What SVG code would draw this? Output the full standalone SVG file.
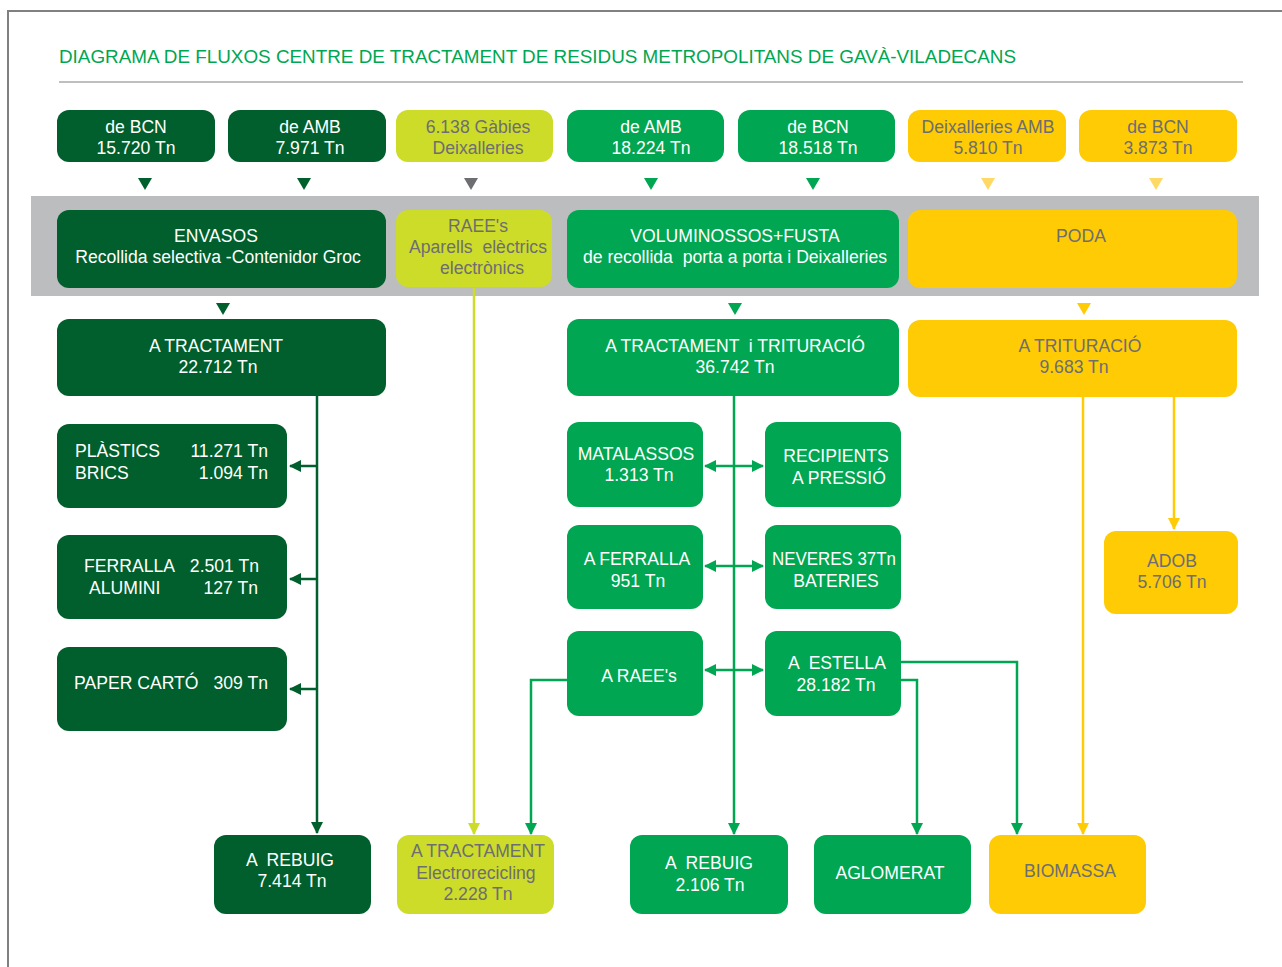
<svg xmlns="http://www.w3.org/2000/svg" width="1282" height="967" viewBox="0 0 1282 967">
<defs>
<style>
text{font-family:"Liberation Sans",Arial,sans-serif;font-size:17.6px;text-anchor:middle;white-space:pre}
.w{fill:#ffffff}
.g{fill:#6d6e71}
.dk{fill:#005f2c}
.gr{fill:#00a651}
.lm{fill:#cddc29}
.yl{fill:#ffcb05}
.c{fill:none;stroke-width:2.5}
</style>
<marker id="aDk" viewBox="0 0 12 12" refX="11" refY="6" markerWidth="12" markerHeight="12" markerUnits="userSpaceOnUse" orient="auto-start-reverse"><path d="M0,0L12,6L0,12z" fill="#005f2c"/></marker>
<marker id="aGr" viewBox="0 0 12 12" refX="11" refY="6" markerWidth="12" markerHeight="12" markerUnits="userSpaceOnUse" orient="auto-start-reverse"><path d="M0,0L12,6L0,12z" fill="#00a651"/></marker>
<marker id="aLm" viewBox="0 0 12 12" refX="11" refY="6" markerWidth="12" markerHeight="12" markerUnits="userSpaceOnUse" orient="auto-start-reverse"><path d="M0,0L12,6L0,12z" fill="#cddc29"/></marker>
<marker id="aYl" viewBox="0 0 12 12" refX="11" refY="6" markerWidth="12" markerHeight="12" markerUnits="userSpaceOnUse" orient="auto-start-reverse"><path d="M0,0L12,6L0,12z" fill="#ffcb05"/></marker>
</defs>
<rect width="1282" height="967" fill="#ffffff"/>
<path d="M8,967V11H1282" fill="none" stroke="#808080" stroke-width="2"/>
<text x="59" y="63" textLength="957" lengthAdjust="spacingAndGlyphs" style="text-anchor:start;fill:#00a651;font-size:18.5px">DIAGRAMA DE FLUXOS CENTRE DE TRACTAMENT DE RESIDUS METROPOLITANS DE GAVÀ-VILADECANS</text>
<line x1="59" y1="82" x2="1243" y2="82" stroke="#808080" stroke-width="1.2"/>
<rect x="31" y="196" width="1228" height="100" fill="#bcbdbf"/>

<g id="triangles">
<path d="M138,178h14l-7,12z" fill="#005f2c"/>
<path d="M297,178h14l-7,12z" fill="#005f2c"/>
<path d="M464,178h14l-7,12z" fill="#6d6e71"/>
<path d="M644,178h14l-7,12z" fill="#00a651"/>
<path d="M806,178h14l-7,12z" fill="#00a651"/>
<path d="M981,178h14l-7,12z" fill="#ffd966"/>
<path d="M1149,178h14l-7,12z" fill="#ffd966"/>
<path d="M216,303h14l-7,12z" fill="#005f2c"/>
<path d="M728,303h14l-7,12z" fill="#00a651"/>
<path d="M1077,303h14l-7,12z" fill="#ffcb05"/>
</g>

<g id="connectors">
<path class="c" d="M317,396V833" stroke="#005f2c" stroke-width="3" marker-end="url(#aDk)"/>
<path class="c" d="M317,466H290" stroke="#005f2c" stroke-width="3" marker-end="url(#aDk)"/>
<path class="c" d="M317,579H290" stroke="#005f2c" stroke-width="3" marker-end="url(#aDk)"/>
<path class="c" d="M317,689H290" stroke="#005f2c" stroke-width="3" marker-end="url(#aDk)"/>
<path class="c" d="M474,288V834" stroke="#cddc29" marker-end="url(#aLm)"/>
<path class="c" d="M567,680H531V834" stroke="#00a651" marker-end="url(#aGr)"/>
<path class="c" d="M734,396V834" stroke="#00a651" marker-end="url(#aGr)"/>
<path class="c" d="M705,466H763" stroke="#00a651" stroke-width="3" marker-start="url(#aGr)" marker-end="url(#aGr)"/>
<path class="c" d="M705,566H763" stroke="#00a651" stroke-width="3" marker-start="url(#aGr)" marker-end="url(#aGr)"/>
<path class="c" d="M705,670H763" stroke="#00a651" stroke-width="3" marker-start="url(#aGr)" marker-end="url(#aGr)"/>
<path class="c" d="M901,662H1017V834" stroke="#00a651" marker-end="url(#aGr)"/>
<path class="c" d="M901,680H917V834" stroke="#00a651" marker-end="url(#aGr)"/>
<path class="c" d="M1083,397V834" stroke="#ffcb05" marker-end="url(#aYl)"/>
<path class="c" d="M1174,397V529" stroke="#ffcb05" marker-end="url(#aYl)"/>
</g>

<g id="n-bcn1"><rect class="dk" x="57" y="110" width="158" height="52" rx="12"/><text class="w" x="136" y="133">de BCN</text><text class="w" x="136" y="154">15.720 Tn</text></g>
<g id="n-amb1"><rect class="dk" x="228" y="110" width="158" height="52" rx="12"/><text class="w" x="310" y="133">de AMB</text><text class="w" x="310" y="154">7.971 Tn</text></g>
<g id="n-gabies"><rect class="lm" x="396" y="110" width="157" height="52" rx="12"/><text class="g" x="478" y="133">6.138 Gàbies</text><text class="g" x="478" y="154">Deixalleries</text></g>
<g id="n-amb2"><rect class="gr" x="567" y="110" width="157" height="52" rx="12"/><text class="w" x="651" y="133">de AMB</text><text class="w" x="651" y="154">18.224 Tn</text></g>
<g id="n-bcn2"><rect class="gr" x="738" y="110" width="157" height="52" rx="12"/><text class="w" x="818" y="133">de BCN</text><text class="w" x="818" y="154">18.518 Tn</text></g>
<g id="n-deixamb"><rect class="yl" x="908" y="110" width="158" height="52" rx="12"/><text class="g" x="988" y="133">Deixalleries AMB</text><text class="g" x="988" y="154">5.810 Tn</text></g>
<g id="n-bcn3"><rect class="yl" x="1079" y="110" width="158" height="52" rx="12"/><text class="g" x="1158" y="133">de BCN</text><text class="g" x="1158" y="154">3.873 Tn</text></g>

<g id="n-envasos"><rect class="dk" x="57" y="210" width="329" height="78" rx="12"/><text class="w" x="216" y="242">ENVASOS</text><text class="w" x="218" y="263">Recollida selectiva -Contenidor Groc</text></g>
<g id="n-raee"><rect class="lm" x="396" y="210" width="156" height="77" rx="12"/><text class="g" x="478" y="232">RAEE's</text><text class="g" x="478" y="253">Aparells  elèctrics</text><text class="g" x="482" y="274">electrònics</text></g>
<g id="n-volum"><rect class="gr" x="567" y="210" width="332" height="78" rx="12"/><text class="w" x="735" y="242">VOLUMINOSSOS+FUSTA</text><text class="w" x="735" y="263">de recollida  porta a porta i Deixalleries</text></g>
<g id="n-poda"><rect class="yl" x="908" y="210" width="329" height="78" rx="12"/><text class="g" x="1081" y="242">PODA</text></g>

<g id="n-tract1"><rect class="dk" x="57" y="319" width="329" height="77" rx="12"/><text class="w" x="216" y="352">A TRACTAMENT</text><text class="w" x="218" y="373">22.712 Tn</text></g>
<g id="n-tract2"><rect class="gr" x="567" y="319" width="332" height="77" rx="12"/><text class="w" x="735" y="352">A TRACTAMENT  i TRITURACIÓ</text><text class="w" x="735" y="373">36.742 Tn</text></g>
<g id="n-trit"><rect class="yl" x="908" y="320" width="329" height="77" rx="12"/><text class="g" x="1080" y="352">A TRITURACIÓ</text><text class="g" x="1074" y="373">9.683 Tn</text></g>

<g id="n-plastics"><rect class="dk" x="57" y="424" width="230" height="84" rx="12"/><text class="w" x="75" y="457" style="text-anchor:start">PLÀSTICS</text><text class="w" x="268" y="457" style="text-anchor:end">11.271 Tn</text><text class="w" x="75" y="479" style="text-anchor:start">BRICS</text><text class="w" x="268" y="479" style="text-anchor:end">1.094 Tn</text></g>
<g id="n-ferralla"><rect class="dk" x="57" y="535" width="230" height="84" rx="12"/><text class="w" x="84" y="572" style="text-anchor:start">FERRALLA</text><text class="w" x="259" y="572" style="text-anchor:end">2.501 Tn</text><text class="w" x="89" y="594" style="text-anchor:start">ALUMINI</text><text class="w" x="258" y="594" style="text-anchor:end">127 Tn</text></g>
<g id="n-paper"><rect class="dk" x="57" y="647" width="230" height="84" rx="12"/><text class="w" x="74" y="689" style="text-anchor:start">PAPER CARTÓ</text><text class="w" x="268" y="689" style="text-anchor:end">309 Tn</text></g>

<g id="n-matal"><rect class="gr" x="567" y="422" width="136" height="85" rx="12"/><text class="w" x="636" y="460">MATALASSOS</text><text class="w" x="639" y="481">1.313 Tn</text></g>
<g id="n-recip"><rect class="gr" x="765" y="422" width="136" height="85" rx="12"/><text class="w" x="836" y="462">RECIPIENTS</text><text class="w" x="839" y="484">A PRESSIÓ</text></g>
<g id="n-aferr"><rect class="gr" x="567" y="525" width="136" height="84" rx="12"/><text class="w" x="637" y="565">A FERRALLA</text><text class="w" x="638" y="587">951 Tn</text></g>
<g id="n-never"><rect class="gr" x="765" y="525" width="136" height="84" rx="12"/><text class="w" x="834" y="565" textLength="124" lengthAdjust="spacingAndGlyphs">NEVERES 37Tn</text><text class="w" x="836" y="587">BATERIES</text></g>
<g id="n-araee"><rect class="gr" x="567" y="631" width="136" height="85" rx="12"/><text class="w" x="639" y="682">A RAEE's</text></g>
<g id="n-estella"><rect class="gr" x="765" y="631" width="136" height="85" rx="12"/><text class="w" x="837" y="669">A  ESTELLA</text><text class="w" x="836" y="691">28.182 Tn</text></g>

<g id="n-adob"><rect class="yl" x="1104" y="531" width="134" height="83" rx="12"/><text class="g" x="1172" y="567">ADOB</text><text class="g" x="1172" y="588">5.706 Tn</text></g>

<g id="n-rebuig1"><rect class="dk" x="214" y="835" width="157" height="79" rx="12"/><text class="w" x="290" y="866">A  REBUIG</text><text class="w" x="292" y="887">7.414 Tn</text></g>
<g id="n-electro"><rect class="lm" x="397" y="835" width="157" height="79" rx="12"/><text class="g" x="478" y="857" textLength="134" lengthAdjust="spacingAndGlyphs">A TRACTAMENT</text><text class="g" x="476" y="879">Electrorecicling</text><text class="g" x="478" y="900">2.228 Tn</text></g>
<g id="n-rebuig2"><rect class="gr" x="630" y="835" width="158" height="79" rx="12"/><text class="w" x="709" y="869">A  REBUIG</text><text class="w" x="710" y="891">2.106 Tn</text></g>
<g id="n-aglom"><rect class="gr" x="814" y="835" width="157" height="79" rx="12"/><text class="w" x="890" y="879">AGLOMERAT</text></g>
<g id="n-biomassa"><rect class="yl" x="989" y="835" width="157" height="79" rx="12"/><text class="g" x="1070" y="877">BIOMASSA</text></g>
</svg>
